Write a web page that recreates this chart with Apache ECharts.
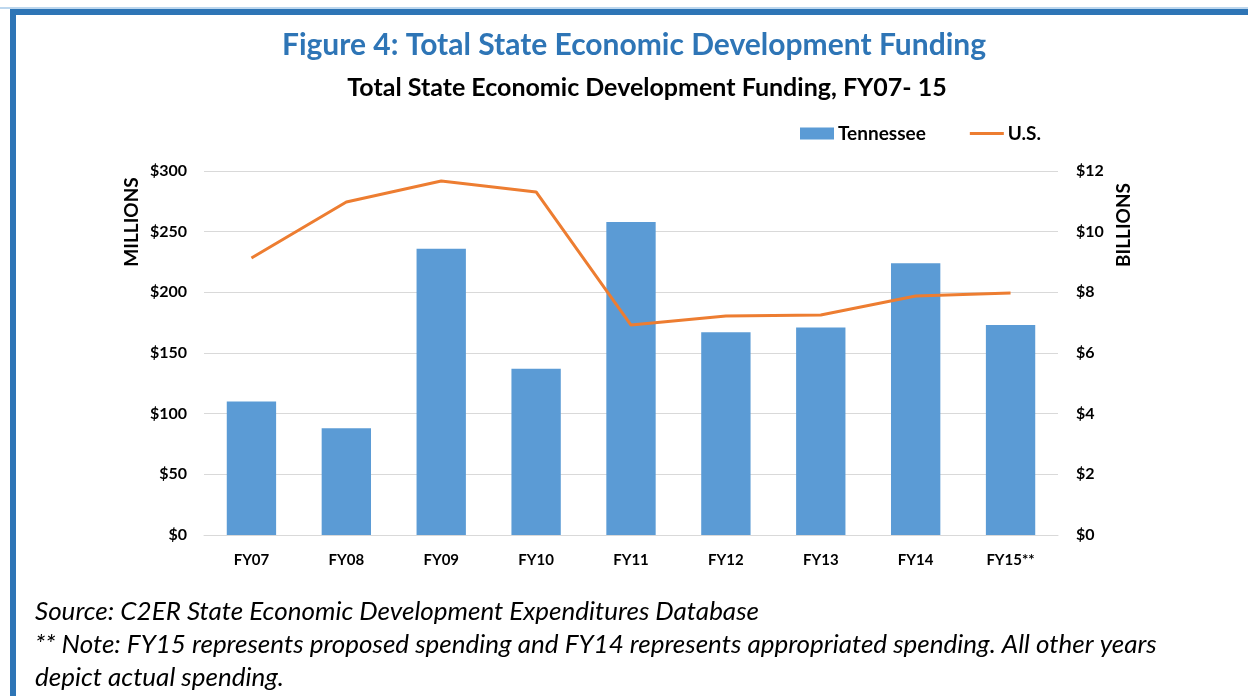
<!DOCTYPE html>
<html><head><meta charset="utf-8">
<script src="https://cdn.jsdelivr.net/npm/echarts@6/dist/echarts.min.js"></script>
<style>html,body{margin:0;padding:0;background:#fff}#c{width:1248px;height:696px}</style>
</head><body><div id="c"></div>
<script>
const categories = ['FY07','FY08','FY09','FY10','FY11','FY12','FY13','FY14','FY15**'];
const tennessee = [110, 88, 236, 137, 258, 167, 171, 224, 173];
const us = [9.13, 10.98, 11.67, 11.31, 6.92, 7.22, 7.25, 7.88, 7.98];
const leftTicks = {min: 0, max: 300, interval: 50};
const rightTicks = {min: 0, max: 12, interval: 2};

const FONT = 'Lato, "Open Sans", sans-serif';
const chart = echarts.init(document.getElementById('c'));
chart.setOption({
  animation: false,
  textStyle: {fontFamily: FONT},
  grid: {left: 204, right: 190, top: 171, bottom: 161},
  legend: {
    left: 800, top: 124, padding: 0, itemWidth: 34, itemHeight: 12, itemGap: 44,
    textStyle: {fontFamily: FONT, fontSize: 19, fontWeight: 'bold', color: '#000', padding: [0, 0, 0, -1]},
    data: [{name: 'Tennessee', icon: 'rect'},
           {name: 'U.S.', icon: 'path://M0 0H36V3H0Z', itemStyle: {color: '#ED7D31'}}]
  },
  xAxis: {
    type: 'category', data: categories,
    axisLine: {lineStyle: {color: '#D9D9D9', width: 1}},
    axisTick: {show: false},
    axisLabel: {color: '#000', fontWeight: 'bold', fontSize: 15, margin: 18, fontFamily: FONT}
  },
  yAxis: [{
    type: 'value', min: leftTicks.min, max: leftTicks.max, interval: leftTicks.interval,
    axisLine: {show: false}, axisTick: {show: false},
    splitLine: {lineStyle: {color: '#D9D9D9'}},
    axisLabel: {color: '#000', fontWeight: 'bold', fontSize: 16, margin: 17, fontFamily: FONT,
      formatter: v => '$' + v}
  }, {
    type: 'value', min: rightTicks.min, max: rightTicks.max, interval: rightTicks.interval,
    axisLine: {show: false}, axisTick: {show: false}, splitLine: {show: false},
    axisLabel: {color: '#000', fontWeight: 'bold', fontSize: 16, margin: 18, fontFamily: FONT,
      formatter: v => '$' + v}
  }],
  series: [{
    name: 'Tennessee', type: 'bar', data: tennessee, barWidth: '52%',
    itemStyle: {color: '#5B9BD5'}
  }, {
    name: 'U.S.', type: 'line', yAxisIndex: 1, data: us, symbol: 'none',
    lineStyle: {color: '#ED7D31', width: 3}, itemStyle: {color: '#ED7D31'}
  }],
  graphic: [
    {type: 'rect', shape: {x: 0, y: 7, width: 1248, height: 2}, style: {fill: '#BDD7EE'}},
    {type: 'rect', shape: {x: 10, y: 9, width: 1238, height: 6}, style: {fill: '#2E75B6'}},
    {type: 'rect', shape: {x: 10, y: 9, width: 6, height: 687}, style: {fill: '#2E75B6'}},
    {type: 'text', x: 634, y: 45, style: {text: 'Figure 4: Total State Economic Development Funding',
      font: 'bold 30px ' + FONT, fill: '#2E75B6', textAlign: 'center', textVerticalAlign: 'middle'}},
    {type: 'text', x: 647, y: 88, style: {text: 'Total State Economic Development Funding, FY07- 15',
      font: 'bold 25px ' + FONT, fill: '#000', textAlign: 'center', textVerticalAlign: 'middle'}},
    {type: 'text', x: 132, y: 222, rotation: Math.PI / 2, style: {text: 'MILLIONS',
      font: 'bold 19px ' + FONT, fill: '#000', textAlign: 'center', textVerticalAlign: 'middle'}},
    {type: 'text', x: 1124, y: 225, rotation: Math.PI / 2, style: {text: 'BILLIONS',
      font: 'bold 19px ' + FONT, fill: '#000', textAlign: 'center', textVerticalAlign: 'middle'}},
    {type: 'text', x: 35, y: 612, style: {text: 'Source: C2ER State Economic Development Expenditures Database',
      font: 'italic 26px ' + FONT, fill: '#000', textVerticalAlign: 'middle'}},
    {type: 'text', x: 35, y: 645, style: {text: '** Note: FY15 represents proposed spending and FY14 represents appropriated spending. All other years',
      font: 'italic 26px ' + FONT, fill: '#000', textVerticalAlign: 'middle'}},
    {type: 'text', x: 35, y: 678, style: {text: 'depict actual spending.',
      font: 'italic 26px ' + FONT, fill: '#000', textVerticalAlign: 'middle'}}
  ]
});
</script></body></html>
